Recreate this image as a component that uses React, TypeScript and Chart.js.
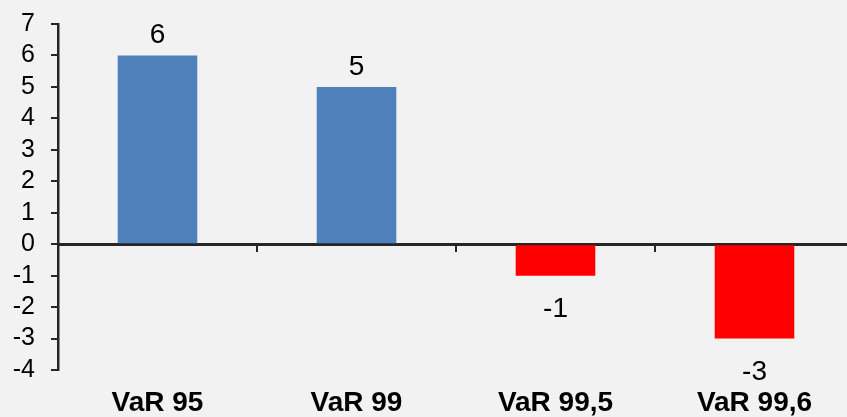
import React, { useEffect, useRef } from "react";
import { Chart, registerables } from "chart.js";

Chart.register(...registerables);

const categories = ["VaR 95", "VaR 99", "VaR 99,5", "VaR 99,6"];
const values = [6, 5, -1, -3];
const barColors = ["#4f81bd", "#4f81bd", "#ff0000", "#ff0000"];
const yMin = -4;
const yMax = 7;

const FONT = "'Liberation Sans', Arial, sans-serif";

const dataLabels = {
  id: "dataLabels",
  afterDatasetsDraw(chart: any) {
    const ctx = chart.ctx;
    const meta = chart.getDatasetMeta(0);
    ctx.save();
    ctx.font = `28px ${FONT}`;
    ctx.fillStyle = "#000";
    ctx.textAlign = "center";
    ctx.textBaseline = "alphabetic";
    meta.data.forEach((bar: any, i: number) => {
      const v = values[i];
      const y = v >= 0 ? bar.y - 12 : bar.y + 41;
      ctx.fillText(String(v), bar.x, y);
    });
    ctx.restore();
  },
};

export default function App() {
  const ref = useRef<HTMLCanvasElement>(null);
  useEffect(() => {
    if (!ref.current) return;
    const chart = new Chart(ref.current, {
      type: "bar",
      data: {
        labels: categories,
        datasets: [
          {
            data: values,
            backgroundColor: barColors,
            borderWidth: 0,
            categoryPercentage: 1,
            barPercentage: 0.4,
          },
        ],
      },
      options: {
        responsive: false,
        animation: false,
        devicePixelRatio: 1,
        layout: { padding: { top: 24, left: 0, right: 0, bottom: 0 } },
        plugins: { legend: { display: false }, tooltip: { enabled: false } },
        scales: {
          x: {
            position: "bottom",
            grid: { display: false, drawTicks: false },
            border: { display: false },
            ticks: {
              color: "#000",
              font: { family: FONT, size: 28, weight: "bold" },
              padding: 16,
              maxRotation: 0,
              autoSkip: false,
            },
            afterFit: (s: any) => {
              s.height = 47;
            },
          },
          x0: {
            type: "category",
            position: { y: 0 } as any,
            offset: true,
            grid: {
              drawOnChartArea: false,
              drawTicks: true,
              tickLength: 6,
              color: "#262626",
              lineWidth: 2,
              offset: true,
            },
            border: { display: true, color: "#262626", width: 3 },
            ticks: { display: false },
          },
          y: {
            min: yMin,
            max: yMax,
            ticks: {
              stepSize: 1,
              autoSkip: false,
              color: "#000",
              font: { family: FONT, size: 25 },
              padding: 16,
            },
            grid: {
              drawOnChartArea: false,
              drawTicks: true,
              tickLength: 7,
              color: "#262626",
              lineWidth: 2,
            },
            border: { display: true, color: "#262626", width: 2.5 },
            afterFit: (s: any) => {
              s.width = 58;
              s.paddingTop = 0;
              s.paddingBottom = 0;
            },
          },
        },
      },
      plugins: [dataLabels],
    });
    return () => chart.destroy();
  }, []);

  return (
    <div
      style={{
        position: "fixed",
        left: 0,
        top: 0,
        width: 847,
        height: 417,
        overflow: "hidden",
        background: "#f2f2f2",
      }}
    >
      <canvas ref={ref} width={854} height={417} style={{ width: 854, height: 417, display: "block" }} />
    </div>
  );
}
